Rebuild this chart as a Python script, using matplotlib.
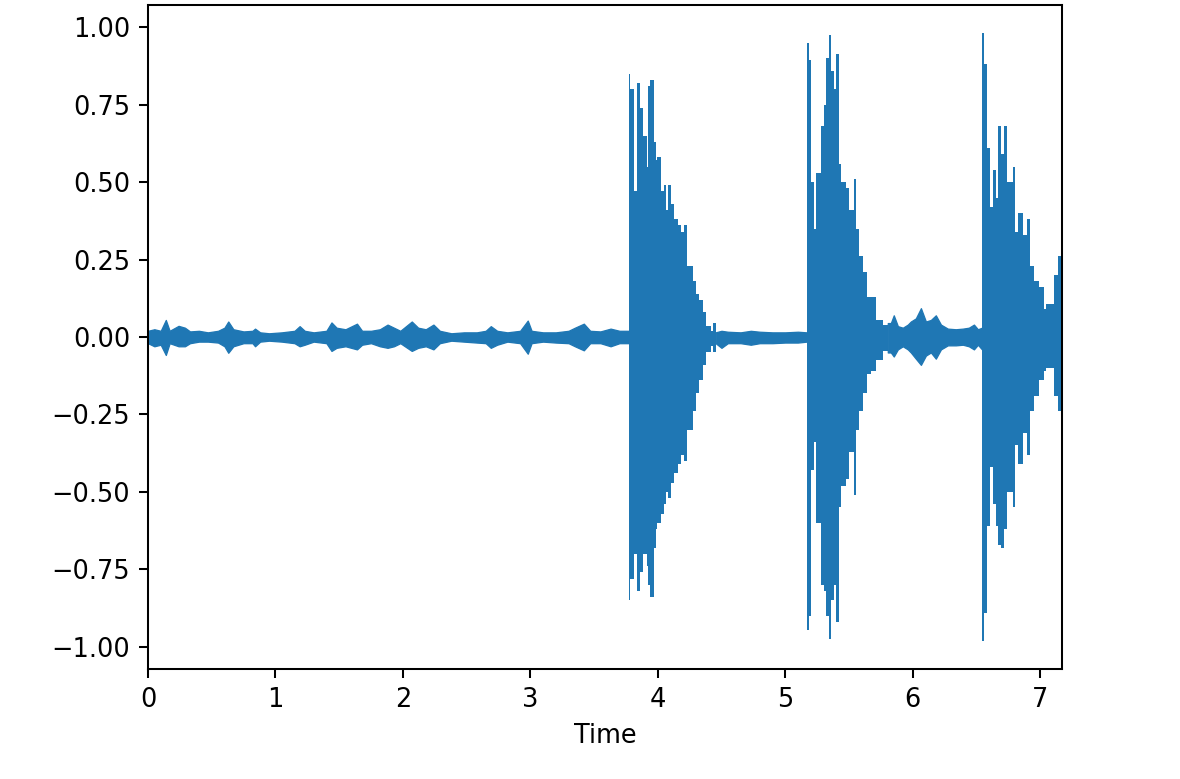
import numpy as np
import matplotlib
matplotlib.use("Agg")
import matplotlib.pyplot as plt

# waveform envelope: time (s), upper, lower
# quiet stretches (smooth envelope)
t_quiet = [0.00, 0.05, 0.10, 0.14, 0.17, 0.24, 0.29, 0.33, 0.40, 0.47, 0.55, 0.60, 0.63, 0.67,
           0.75, 0.82, 0.84, 0.88, 0.95, 1.05, 1.15, 1.19, 1.23, 1.30, 1.40, 1.44, 1.48, 1.55,
           1.64, 1.68, 1.75, 1.82, 1.88, 1.93, 1.98, 2.07, 2.12, 2.18, 2.24, 2.29, 2.38, 2.48,
           2.58, 2.65, 2.69, 2.74, 2.82, 2.92, 2.98, 3.01, 3.10, 3.20, 3.30, 3.35, 3.42, 3.47,
           3.55, 3.63, 3.70, 3.771]
up_quiet = [0.020, 0.025, 0.020, 0.055, 0.020, 0.036, 0.030, 0.018, 0.020, 0.015, 0.020, 0.030,
            0.050, 0.025, 0.018, 0.020, 0.027, 0.015, 0.012, 0.015, 0.020, 0.035, 0.020, 0.015,
            0.020, 0.047, 0.030, 0.025, 0.043, 0.020, 0.020, 0.025, 0.040, 0.030, 0.020, 0.050,
            0.030, 0.025, 0.040, 0.020, 0.012, 0.015, 0.015, 0.020, 0.035, 0.020, 0.015, 0.020,
            0.053, 0.020, 0.015, 0.015, 0.020, 0.030, 0.043, 0.020, 0.018, 0.027, 0.020, 0.020]
lo_quiet = [-0.020, -0.030, -0.025, -0.058, -0.020, -0.030, -0.030, -0.020, -0.015, -0.015,
            -0.018, -0.030, -0.051, -0.030, -0.020, -0.020, -0.030, -0.015, -0.012, -0.015,
            -0.020, -0.030, -0.025, -0.015, -0.020, -0.045, -0.035, -0.030, -0.040, -0.025,
            -0.020, -0.030, -0.035, -0.030, -0.020, -0.045, -0.035, -0.030, -0.040, -0.020,
            -0.012, -0.015, -0.018, -0.020, -0.035, -0.025, -0.015, -0.020, -0.054, -0.020,
            -0.015, -0.018, -0.020, -0.030, -0.043, -0.020, -0.020, -0.030, -0.020, -0.020]

t_gap1 = [4.454, 4.50, 4.55, 4.65, 4.73, 4.80, 4.90, 5.00, 5.10, 5.169]
up_gap1 = [0.015, 0.020, 0.017, 0.015, 0.020, 0.017, 0.015, 0.015, 0.017, 0.015]
lo_gap1 = [-0.020, -0.035, -0.020, -0.020, -0.025, -0.020, -0.020, -0.018, -0.018, -0.015]

t_gap2 = [5.805, 5.829, 5.852, 5.884, 5.923, 5.962, 5.986, 6.025, 6.065, 6.104, 6.143, 6.182,
          6.222, 6.276, 6.339, 6.394, 6.441, 6.481, 6.512, 6.544]
up_gap2 = [0.045, 0.045, 0.070, 0.035, 0.030, 0.040, 0.050, 0.060, 0.093, 0.050, 0.055, 0.070,
           0.040, 0.027, 0.025, 0.027, 0.030, 0.040, 0.025, 0.030]
lo_gap2 = [-0.050, -0.050, -0.063, -0.040, -0.030, -0.040, -0.050, -0.070, -0.090, -0.060,
           -0.050, -0.070, -0.040, -0.027, -0.027, -0.025, -0.030, -0.040, -0.025, -0.040]

# the three hits: step edges (s) and the upper / lower level of each step
t_hit1 = [3.771, 3.786, 3.810, 3.841, 3.857, 3.881, 3.888, 3.912, 3.920, 3.943, 3.967, 3.983,
          3.998, 4.022, 4.046, 4.061, 4.077, 4.101, 4.124, 4.156, 4.179, 4.203, 4.226, 4.273,
          4.297, 4.321, 4.352, 4.375, 4.415, 4.430, 4.454]
up_hit1 = [0.85, 0.80, 0.47, 0.82, 0.74, 0.55, 0.65, 0.55, 0.81, 0.83, 0.63, 0.57, 0.58, 0.47,
           0.49, 0.41, 0.49, 0.43, 0.38, 0.36, 0.34, 0.36, 0.23, 0.18, 0.14, 0.12, 0.08, 0.035,
           0.02, 0.045]
lo_hit1 = [-0.85, -0.78, -0.70, -0.82, -0.76, -0.72, -0.70, -0.74, -0.80, -0.84, -0.68, -0.62,
           -0.60, -0.57, -0.54, -0.50, -0.52, -0.47, -0.44, -0.41, -0.38, -0.40, -0.30, -0.24,
           -0.18, -0.14, -0.09, -0.05, -0.03, -0.05]

t_hit2 = [5.169, 5.185, 5.200, 5.224, 5.240, 5.255, 5.279, 5.302, 5.318, 5.342, 5.357, 5.381,
          5.397, 5.420, 5.436, 5.475, 5.499, 5.538, 5.554, 5.577, 5.609, 5.640, 5.672, 5.711,
          5.766, 5.805]
up_hit2 = [0.948, 0.894, 0.50, 0.35, 0.53, 0.53, 0.68, 0.75, 0.90, 0.975, 0.86, 0.80, 0.915,
           0.56, 0.50, 0.48, 0.41, 0.51, 0.35, 0.26, 0.21, 0.13, 0.13, 0.055, 0.04]
lo_hit2 = [-0.947, -0.90, -0.43, -0.34, -0.60, -0.60, -0.80, -0.82, -0.90, -0.975, -0.85,
           -0.80, -0.92, -0.55, -0.48, -0.46, -0.37, -0.51, -0.30, -0.24, -0.18, -0.12, -0.11,
           -0.075, -0.045]

t_hit3 = [6.544, 6.559, 6.583, 6.606, 6.630, 6.654, 6.669, 6.693, 6.716, 6.740, 6.787, 6.803,
          6.826, 6.866, 6.897, 6.920, 6.952, 6.991, 7.031, 7.046, 7.109, 7.141, 7.172]
up_hit3 = [0.98, 0.88, 0.61, 0.42, 0.54, 0.45, 0.68, 0.59, 0.68, 0.50, 0.55, 0.34, 0.40, 0.33,
           0.38, 0.23, 0.18, 0.16, 0.09, 0.105, 0.20, 0.26]
lo_hit3 = [-0.98, -0.89, -0.61, -0.42, -0.54, -0.61, -0.67, -0.68, -0.62, -0.50, -0.55, -0.35,
           -0.41, -0.31, -0.38, -0.24, -0.19, -0.14, -0.11, -0.10, -0.19, -0.24]

fig = plt.figure(figsize=(6.4, 779 / 184.375), dpi=184.375)
ax = fig.add_axes([0.1254, 0.1412, 0.7746, 0.8524])

for t, up, lo in [(t_quiet, up_quiet, lo_quiet), (t_gap1, up_gap1, lo_gap1),
                  (t_gap2, up_gap2, lo_gap2)]:
    ax.fill_between(t, lo, up, color="C0", linewidth=0.5, edgecolor="C0")
for t, up, lo in [(t_hit1, up_hit1, lo_hit1), (t_hit2, up_hit2, lo_hit2),
                  (t_hit3, up_hit3, lo_hit3)]:
    ax.stairs(up, t, baseline=lo, fill=True, color="C0", linewidth=0.5)

ax.set_xlim(0, 7.172)
ax.set_ylim(-1.072, 1.072)
ax.set_yticks([-1.0, -0.75, -0.5, -0.25, 0.0, 0.25, 0.5, 0.75, 1.0])
ax.set_xticks(range(8))
ax.set_xlabel("Time")

fig.savefig("out.png", dpi=184.375)
